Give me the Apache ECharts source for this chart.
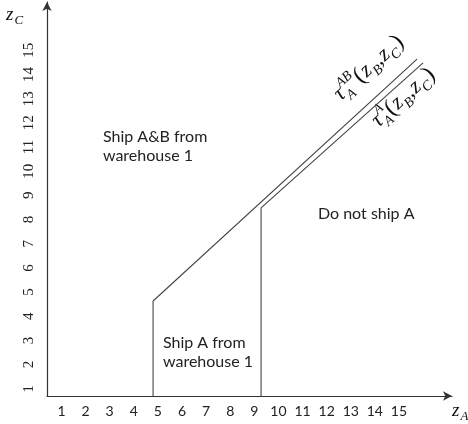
<!DOCTYPE html>
<html><head><meta charset="utf-8">
<script src="https://cdn.jsdelivr.net/npm/echarts@6/dist/echarts.min.js"></script>
<style>html,body{margin:0;padding:0;background:#fff}#c{width:468px;height:424px}</style>
</head><body><div id="c"></div>
<script>
// ---- data ----
const xTicks = [1,2,3,4,5,6,7,8,9,10,11,12,13,14,15];
const yTicks = [1,2,3,4,5,6,7,8,9,10,11,12,13,14,15];
// threshold tau_A^AB(z_B,z_C): vertical at z_A≈4.8 then rising boundary
const boundaryAB = [[4.80,0],[4.80,4.63],[15.75,14.64]];
// threshold tau_A^A(z_B,z_C): vertical at z_A≈9.3 then rising boundary
const boundaryA = [[9.28,0],[9.28,8.48],[16.0,14.48]];
const regionNames = ['Ship A&B from\nwarehouse 1', 'Ship A from\nwarehouse 1', 'Do not ship A'];
const regionAt = [[2.72,11.81],[5.21,3.29],[11.64,8.62]];
const curveSup = ['AB','A'];
const curveAt = [[12.62,12.86],[14.18,11.76]];

const chart = echarts.init(document.getElementById('c'), null, {renderer:'canvas'});
const axisCommon = {
  type:'value',
  axisLine:{show:true, symbol:['none','arrow'], symbolSize:[7,9], lineStyle:{color:'#333', width:1.2}},
  axisTick:{show:false},
  splitLine:{show:false}
};
chart.setOption({
  animation:false,
  backgroundColor:'#fff',
  grid:{left:47, right:16, top:2, bottom:28, outerBoundsMode:'none'},
  xAxis:Object.assign({}, axisCommon, {min:0.4, max:17.2,
    axisLabel:{customValues:xTicks, margin:8, fontFamily:'Lato', fontSize:14, color:'#222'}}),
  yAxis:Object.assign({}, axisCommon, {min:0.7, max:17.0,
    axisLabel:{customValues:yTicks, margin:10, rotate:90, fontFamily:'Liberation Serif', fontSize:15, color:'#222'}}),
  series:[
    {type:'line', data:boundaryAB, symbol:'none', lineStyle:{color:'#444', width:1.1}, clip:true},
    {type:'line', data:boundaryA, symbol:'none', lineStyle:{color:'#444', width:1.1}, clip:true}
  ]
});

const ctx = document.createElement('canvas').getContext('2d');
function tw(t, font){ctx.font = font; return ctx.measureText(t).width;}
const SERIF = '"Liberation Serif"';
function txt(t, x, base, size, italic){
  const font = (italic?'italic ':'') + size + 'px ' + SERIF;
  return {type:'text', x:x, y:base, style:{text:t, font:font, fill:'#111', align:'left', verticalAlign:'bottom'}};
}
function tauLabel(sup, at){
  const p = chart.convertToPixel({gridIndex:0}, at);
  const kids = [];
  let x = 0;
  const big = 22, small = 14, paren = 24;
  kids.push(txt('τ', x, 4, big, true)); x += tw('τ','italic '+big+'px '+SERIF) + 0.5;
  kids.push(txt(sup, x, -8, small, true));
  kids.push(txt('A', x, 8, small, true));
  x += Math.max(tw(sup,'italic '+small+'px '+SERIF), tw('A','italic '+small+'px '+SERIF)) + 1;
  const seq = [['(',false,paren,5],['z',true,big,4],['B',true,small,8],[',',false,big,4],['z',true,big,4],['C',true,small,8],[')',false,paren,5]];
  seq.forEach(s=>{
    kids.push(txt(s[0], x, s[3], s[2], s[1]));
    x += tw(s[0], (s[1]?'italic ':'') + s[2] + 'px ' + SERIF) + 0.5;
  });
  return {type:'group', x:p[0], y:p[1], rotation:42*Math.PI/180, children:kids};
}
const graphics = [];
regionNames.forEach((n,i)=>{
  const p = chart.convertToPixel({gridIndex:0}, regionAt[i]);
  graphics.push({type:'text', x:p[0], y:p[1], style:{text:n, font:'16px Lato', fill:'#222', lineHeight:19, align:'left', verticalAlign:'top'}});
});
curveSup.forEach((s,i)=>graphics.push(tauLabel(s, curveAt[i])));
// axis titles
function axisTitle(main, sub, x, y){
  return {type:'group', x:x, y:y, children:[
    {type:'text', x:0, y:0, style:{text:main, font:'italic 19px '+SERIF, fill:'#111', verticalAlign:'bottom'}},
    {type:'text', x:8.5, y:3, style:{text:sub, font:'italic 13px '+SERIF, fill:'#111', verticalAlign:'bottom'}}
  ]};
}
graphics.push(axisTitle('z','C',6,24));
graphics.push(axisTitle('z','A',452,420));
chart.setOption({graphic:graphics});
</script></body></html>
